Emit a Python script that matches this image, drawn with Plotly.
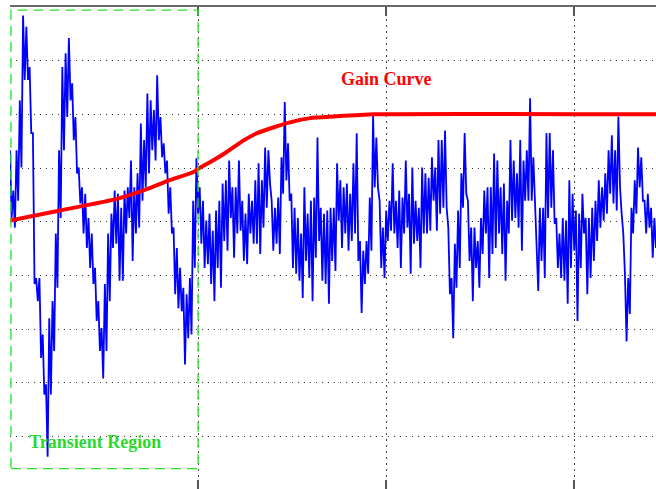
import numpy as np
import plotly.graph_objects as go

# Noisy signal: per time-slice (upper, lower) excursion
signal_hi = [
    13.3, 5.8, 13.3, 22.6, 38.4, 36.3, 28.8, 16.5, -10.5, -10.5, -21.0, -30.3, -18.0, -14.8, -2.2, 13.3,
    28.8, 31.4, 34.2, 25.8, 19.5, 10.1, 6.4, 5.2, 0.7, -2.2, -8.6, -14.8, -19.8, -11.6, -2.2, 1.5, 5.8,
    5.2, 2.6, 5.8, 6.4, 11.4, 6.4, 9.0, 18.3, 15.2, 23.9, 22.6, 20.8, 27.3, 19.5, 14.6, 11.4,
    6.4, -1.1, -4.9, -8.6, -12.3, -13.5, -10.5, 3.9, 11.8, 6.4, 3.9, 0.2, 1.5, -1.7, 2.1, 3.9, 7.1,
    7.7, 11.4, 6.4, 6.4, 11.4, 3.9, 1.5, 5.2, 3.9, 7.7, 10.9, 7.7, 13.8, 13.3, 3.9, 2.6,
    4.5, 12.0, 22.3, 14.6, 5.2, 2.6, 0.7, -2.2, 6.4, 1.5, 3.9, 4.5, 15.7, 2.6, 1.5, 2.1, 2.6,
    2.6, 10.9, 7.7, 6.4, 7.1, 5.2, 10.9, 16.5, -3.6, -5.4, -3.6, 4.5, 19.8, 15.7, 3.9, -1.1,
    2.1, 3.9, 10.9, 3.9, 5.8, 4.5, 11.4, 5.2, 10.1, 3.9, 2.6, 10.1, 9.0, 8.2, 12.0, 10.1, 15.2,
    15.2, 17.0, -1.1, -10.5, -4.1, 2.1, 9.0, 16.5, 3.9, -1.1, -1.1, -3.6, 0.7, 5.8, 6.4, 6.4,
    12.7, 11.4, 6.4, 7.1, 3.9, 15.2, 11.4, 9.0, 15.2, 11.4, 13.3, 23.0, 12.0, -2.2, 2.6, 2.6, 16.5,
    16.5, 13.3, 0.7, -2.2, 0.7, 0.2, 7.7, 5.2, 2.1, 1.5, 5.2, 0.7, 0.7, 2.6, 3.9, 7.7,
    6.4, 9.0, 13.3, 16.1, 13.3, 19.6, 1.5, -9.7, -10.5, 2.6, 7.7, 13.8, 12.0, 3.9, 5.2, 2.6, 0.7,
]
signal_lo = [
    0.7, -1.1, 3.9, 10.1, 26.4, 26.4, 16.5, -11.6, -14.8, -25.4, -32.2, -43.8, -32.2, -24.1, -12.3, 0.7,
    13.3, 19.5, 22.6, 15.2, 9.0, 3.4, -2.2, -4.9, -8.6, -11.6, -18.5, -24.1, -29.2, -24.1, -14.8, -4.9, -4.1,
    -11.0, -11.0, -2.2, 0.7, -7.3, -2.2, -1.1, 3.9, 6.4, 9.0, 13.3, 11.4, 15.2, 12.0, 9.0, 1.5,
    -2.2, -13.5, -16.1, -16.7, -26.6, -21.7, -21.0, -8.6, 1.5, -4.1, -8.6, -7.9, -11.6, -14.8, -8.6, -12.3, -3.6,
    -5.4, 0.7, -6.7, -2.2, -1.7, -7.3, -7.9, -2.2, -4.1, -4.1, -6.0, -1.1, 2.6, 7.1, -5.4, -4.1,
    -6.0, 5.2, 7.7, 3.9, -8.6, -9.7, -11.0, -14.2, -7.3, -10.5, -14.8, -6.7, -3.6, -11.0, -11.6, -15.3, -7.3,
    -9.2, 0.2, -4.9, -2.2, -5.4, -3.6, -2.2, -7.3, -17.0, -11.6, -9.7, -5.4, 6.4, 6.4, -8.6, -10.5,
    -3.6, -1.7, -2.2, -4.9, -8.6, -2.2, -1.1, -9.7, -4.1, -3.6, -8.6, -2.2, -2.2, -1.7, 3.9, -1.7, 1.5,
    2.6, 2.6, -13.5, -21.7, -12.3, -8.6, 2.6, 5.2, -7.3, -14.8, -8.6, -12.3, -6.0, -2.2, -10.5, -6.0,
    -4.9, -2.2, -6.0, -11.0, -2.2, 0.2, 0.7, -1.1, -5.4, 3.9, 3.9, 3.9, 3.4, -12.9, -7.3, -10.5, 0.7,
    2.6, -0.4, -8.6, -10.5, -11.0, -15.3, -8.6, -5.4, -18.5, -8.6, -2.2, -13.5, -10.5, -7.3, -3.6, -1.1,
    0.2, 1.5, 5.2, 3.4, 2.1, 6.4, -2.2, -22.3, -17.2, -2.2, 1.5, 6.4, 3.9, -2.2, -1.1, -6.7, -4.9,
]

# Gain curve
gain_x = [0.0, 0.266, 0.574, 0.739, 0.846, 0.973, 1.011, 1.059, 1.149, 1.245, 1.314,
          1.404, 1.489, 1.596, 1.723, 1.941, 3.436]
gain_y = [0.2, 2.1, 4.3, 6.2, 7.7, 9.2, 10.1, 11.0, 12.9, 15.2, 16.5,
          17.6, 18.5, 19.3, 19.6, 20.0, 20.0]

# Transient region bounds
transient_x = [0.005, 1.0]
transient_y = [-46.0, 39.4]

x_max = 3.436
y_range = [-49.8, 40]

sig_y = []
for h, l in zip(signal_hi, signal_lo):
    sig_y.extend([h, l])
sig_x = np.linspace(0, x_max, len(sig_y))

fig = go.Figure()
fig.add_trace(go.Scatter(x=sig_x, y=sig_y, mode="lines",
                         line=dict(color="#0000ff", width=1.8), showlegend=False))
fig.add_trace(go.Scatter(x=gain_x, y=gain_y, mode="lines",
                         line=dict(color="#ff0000", width=4, shape="spline", smoothing=0.6),
                         showlegend=False))

fig.add_shape(type="rect", x0=transient_x[0], x1=transient_x[1],
              y0=transient_y[0], y1=transient_y[1], xref="x", yref="y",
              line=dict(color="#22e622", width=1.3, dash="10px,6px"))

serif = "Liberation Serif, Times New Roman, serif"
fig.add_annotation(x=2.005, y=26.6, text="<b>Gain Curve</b>", showarrow=False,
                   font=dict(family=serif, size=18, color="#ff0000"))
fig.add_annotation(x=0.452, y=-41.0, text="<b>Transient Region</b>", showarrow=False,
                   font=dict(family=serif, size=18, color="#2bd92b"))

fig.update_layout(
    width=656, height=489,
    margin=dict(l=10, r=0, t=7, b=0),
    paper_bgcolor="white", plot_bgcolor="white",
    xaxis=dict(range=[0, x_max], dtick=1, tick0=0, showticklabels=False,
               showgrid=True, gridcolor="#444444", gridwidth=1.2, griddash="1.5px,4.5px",
               zeroline=False, showline=False, ticks="inside", ticklen=9,
               tickwidth=2, tickcolor="#555555"),
    xaxis2=dict(range=[0, x_max], dtick=1, tick0=0, showticklabels=False,
                overlaying="x", side="top", showgrid=False, zeroline=False,
                showline=True, linecolor="#6a6a6a", linewidth=2,
                ticks="inside", ticklen=9, tickwidth=2, tickcolor="#555555"),
    yaxis=dict(range=y_range, dtick=10, tick0=0, showticklabels=False,
               showgrid=True, gridcolor="#333333", gridwidth=1, griddash="1px,5px",
               zeroline=False, showline=False, ticks=""),
)
fig.add_trace(go.Scatter(x=[None], y=[None], xaxis="x2", showlegend=False))

fig.write_html("out.html")
